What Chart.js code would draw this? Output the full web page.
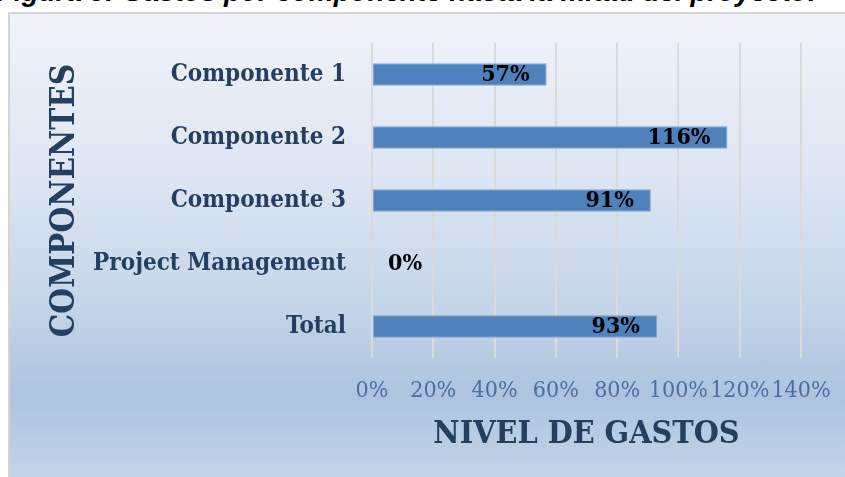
<!DOCTYPE html>
<html>
<head>
<meta charset="utf-8">
<script src="https://cdn.jsdelivr.net/npm/chart.js@4.4.1/dist/chart.umd.min.js"></script>
<style>
  html, body { margin: 0; padding: 0; width: 845px; height: 477px; overflow: hidden; background: #ffffff; }
  #frame {
    position: absolute; left: 8px; top: 12px; width: 845px; height: 470px;
    border: 2px solid #d4d4d4; box-sizing: border-box;
    background: linear-gradient(to bottom, #f0f3f9 0%, #dde6f2 35%, #c2d3e8 65%, #adc3df 82%, #c4d5ea 100%);
  }
  #figtitle {
    position: absolute; left: -3px; top: -23px; white-space: nowrap;
    font-family: "Liberation Sans", Arial, sans-serif; font-weight: bold; font-style: italic;
    font-size: 27.8px; line-height: 30px; color: #000;
  }
  #wrap { position: absolute; left: 0; top: 0; width: 845px; height: 477px; }
</style>
</head>
<body>
<div id="frame"></div>
<div id="figtitle">Figura 5: Gastos por componente hasta la mitad del proyecto.</div>
<div id="wrap"><canvas id="c" width="845" height="477"></canvas></div>
<script>
const categories = ["Componente 1", "Componente 2", "Componente 3", "Project Management", "Total"];
const values = [0.57, 1.16, 0.91, 0.00, 0.93];
const valueLabels = ["57%", "116%", "91%", "0%", "93%"];
const xTicks = [0, 0.2, 0.4, 0.6, 0.8, 1.0, 1.2, 1.4];
const xTitle = "NIVEL DE GASTOS";
const yTitle = "COMPONENTES";

const SERIF = '"DejaVu Serif Condensed", "DejaVu Serif", serif';

const labelPlugin = {
  id: 'barLabels',
  afterDatasetsDraw(chart) {
    const ctx = chart.ctx;
    const meta = chart.getDatasetMeta(0);
    ctx.save();
    ctx.font = 'bold 23px ' + SERIF;
    ctx.fillStyle = '#000000';
    ctx.textBaseline = 'middle';
    meta.data.forEach((bar, i) => {
      const txt = valueLabels[i];
      const w = ctx.measureText(txt).width;
      const len = bar.x - bar.base;
      if (len > w + 24) {
        ctx.textAlign = 'right';
        ctx.fillText(txt, bar.x - 17, bar.y + 1);
      } else {
        ctx.textAlign = 'left';
        ctx.fillText(txt, bar.base + 16, bar.y + 1);
      }
    });
    ctx.restore();
  }
};

new Chart(document.getElementById('c'), {
  type: 'bar',
  data: {
    labels: categories,
    datasets: [{
      data: values,
      backgroundColor: '#4f81bd',
      borderColor: '#7fa4d3',
      borderWidth: 1,
      borderSkipped: false,
      categoryPercentage: 1.0,
      barPercentage: 0.355
    }]
  },
  options: {
    indexAxis: 'y',
    responsive: false,
    animation: false,
    events: [],
    layout: { padding: { left: 0, right: 44, top: 43, bottom: 0 } },
    plugins: { legend: { display: false }, tooltip: { enabled: false } },
    scales: {
      x: {
        min: 0, max: 1.4,
        afterBuildTicks(scale) { scale.ticks = xTicks.map(v => ({ value: v })); },
        afterFit(scale) { scale.height = 119; scale.paddingLeft = 0; scale.paddingRight = 0; },
        grid: { color: '#dadada', lineWidth: 2, drawTicks: false },
        border: { display: false },
        ticks: {
          padding: 19,
          maxRotation: 0, minRotation: 0, autoSkip: false,
          color: '#4a6e9f',
          font: { family: SERIF, size: 23 },
          callback: v => Math.round(v * 100) + '%'
        },
        title: {
          display: true, text: xTitle, color: '#243f60',
          font: { family: SERIF, size: 32, weight: 'bold' },
          padding: { top: 0, bottom: 23 }
        }
      },
      y: {
        afterFit(scale) { scale.width = 372; scale.paddingTop = 0; scale.paddingBottom = 0; },
        grid: { display: false, drawTicks: false },
        border: { display: false },
        ticks: {
          padding: 26,
          color: '#243f60',
          font: { family: SERIF, size: 24, weight: 'bold' }
        },
        title: {
          display: true, text: yTitle, color: '#243f60',
          font: { family: SERIF, size: 33, weight: 'bold' },
          padding: { top: 46, bottom: 0 }
        }
      }
    }
  },
  plugins: [labelPlugin]
});
</script>
</body>
</html>
